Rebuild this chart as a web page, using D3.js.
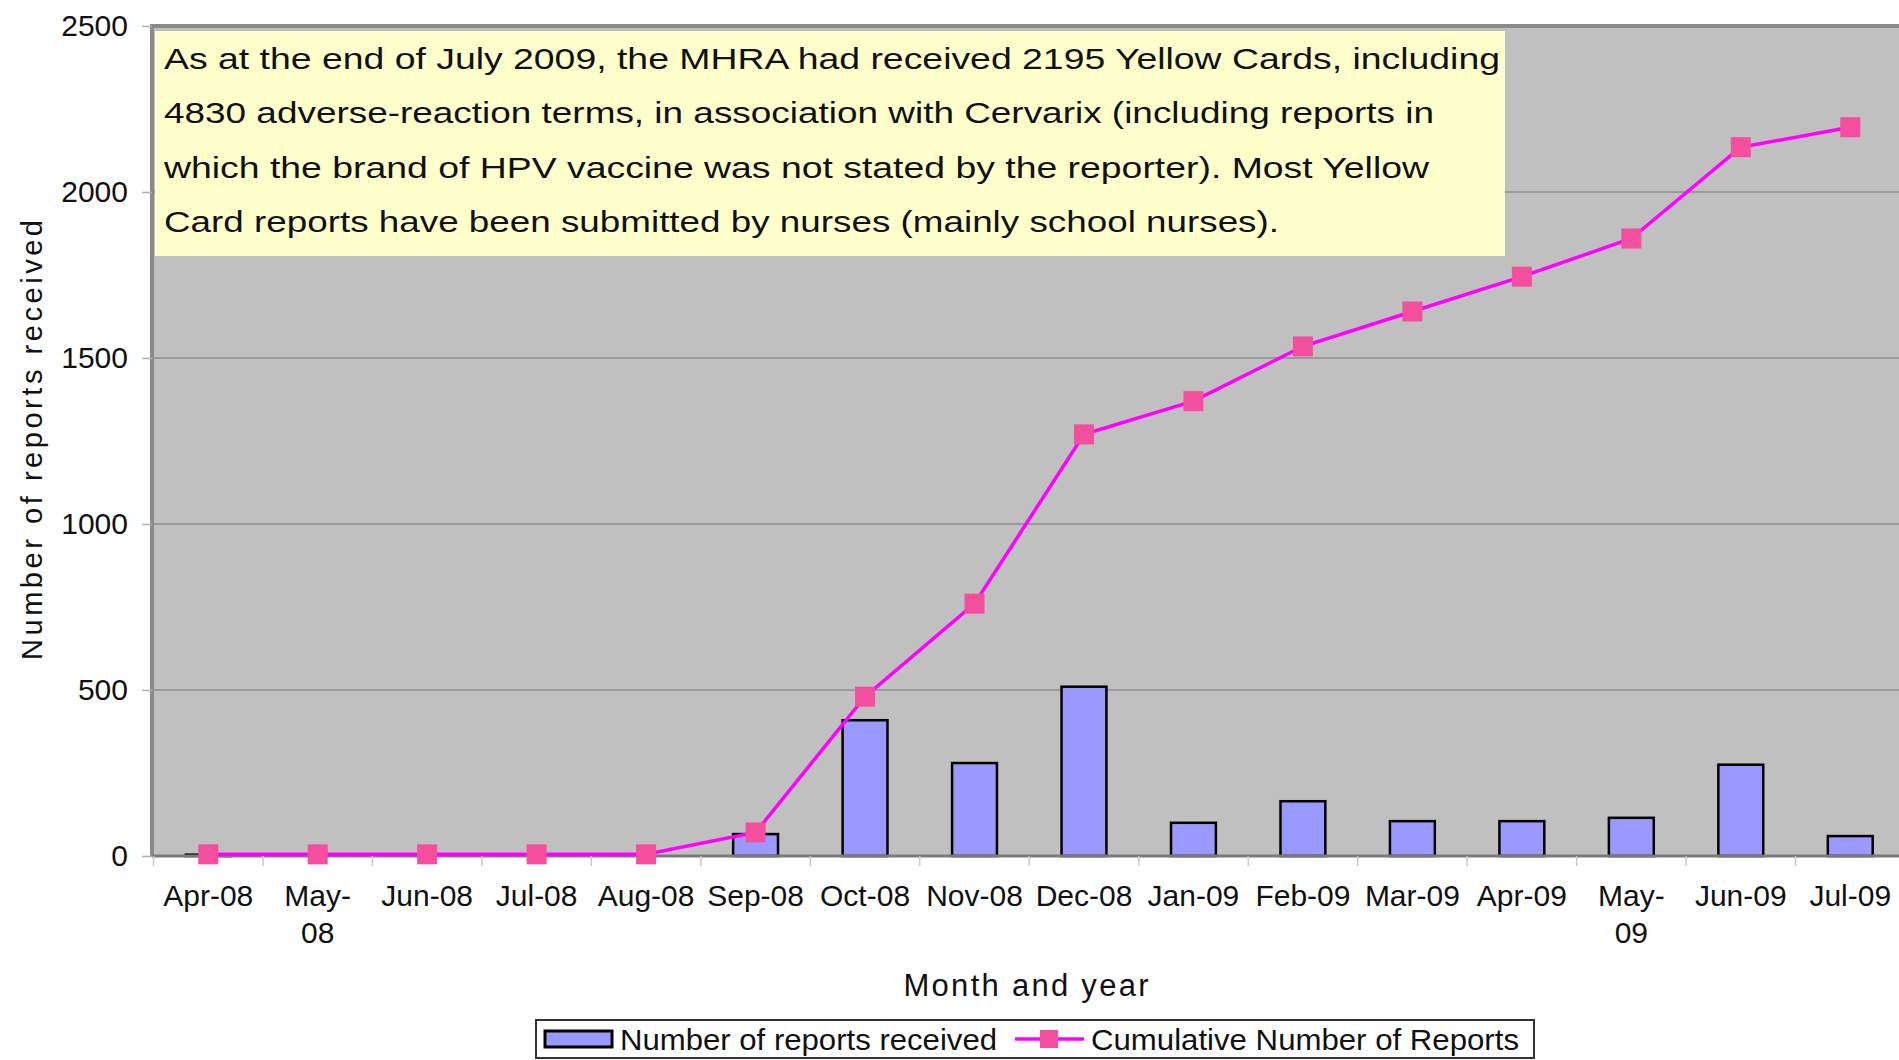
<!DOCTYPE html>
<html lang="en">
<head>
  <meta charset="UTF-8">
  <title>Cervarix Yellow Card reports</title>
  <script src="https://d3js.org/d3.v7.min.js"></script>
  <style>
    html, body { margin:0; background:#fff; overflow:hidden; }
    svg { display:block; }
    text { font-family:"Liberation Sans", Arial, sans-serif; fill:#111; }
  </style>
</head>
<body>
  <svg id="chart" width="1899" height="1060"></svg>
  <script>
    // data
    const months = ["Apr-08","May-08","Jun-08","Jul-08","Aug-08","Sep-08","Oct-08","Nov-08",
                    "Dec-08","Jan-09","Feb-09","Mar-09","Apr-09","May-09","Jun-09","Jul-09"];
    const monthLabels = ["Apr-08","May-\n08","Jun-08","Jul-08","Aug-08","Sep-08","Oct-08","Nov-08",
                         "Dec-08","Jan-09","Feb-09","Mar-09","Apr-09","May-\n09","Jun-09","Jul-09"];
    const reports    = [4, 0, 0, 0, 0, 66, 409, 280, 510, 100, 165, 105, 105, 115, 275, 60];
    const cumulative = [5, 5, 5, 5, 5, 71, 480, 760, 1270, 1370, 1535, 1640, 1745, 1860, 2135, 2195];
    const yTicks = [0, 500, 1000, 1500, 2000, 2500];
    const noteLines = [
      "As at the end of July 2009, the MHRA had received 2195 Yellow Cards, including",
      "4830 adverse-reaction terms, in association with Cervarix (including reports in",
      "which the brand of HPV vaccine was not stated by the reporter). Most Yellow",
      "Card reports have been submitted by nurses (mainly school nurses)."
    ];
    const noteWidths = [1336, 1270, 1265, 1115];

    const svg = d3.select("#chart");
    const plot = {left:152, right:1905, top:26, bottom:856};

    const x = d3.scaleBand().domain(months).range([153.5, 1905]);
    const y = d3.scaleLinear().domain([0, 2500]).range([plot.bottom, plot.top]);
    const barW = x.bandwidth() * 0.41;
    const cx = d => x(d) + x.bandwidth()/2;

    // plot background + grid
    svg.append("rect")
      .attr("x", plot.left).attr("y", plot.top)
      .attr("width", plot.right - plot.left).attr("height", plot.bottom - plot.top)
      .attr("fill", "#c0c0c0");

    svg.append("g").selectAll("line")
      .data(yTicks.slice(1, -1))
      .join("line")
        .attr("x1", plot.left).attr("x2", plot.right)
        .attr("y1", d => y(d)).attr("y2", d => y(d))
        .attr("stroke", "#8e8e8e").attr("stroke-width", 1.5);

    // borders
    svg.append("line")
      .attr("x1", plot.left - 2).attr("x2", plot.right)
      .attr("y1", plot.top).attr("y2", plot.top)
      .attr("stroke", "#8a8a8a").attr("stroke-width", 4);
    svg.append("line")
      .attr("x1", plot.left).attr("x2", plot.left)
      .attr("y1", plot.top).attr("y2", plot.bottom)
      .attr("stroke", "#8a8a8a").attr("stroke-width", 4);

    // y axis
    const yAxis = svg.append("g")
      .attr("transform", `translate(${plot.left},0)`)
      .call(d3.axisLeft(y).tickValues(yTicks).tickFormat(d3.format("d"))
        .tickSize(10).tickPadding(14));
    yAxis.select(".domain").remove();
    yAxis.selectAll(".tick line").attr("stroke", "#b0b0b0").attr("stroke-width", 1.5);
    yAxis.selectAll(".tick text")
      .attr("font-size", 30).attr("fill", "#222")
      .style("font-family", "'Liberation Sans', Arial, sans-serif");

    // annotation box
    svg.append("rect")
      .attr("x", 155).attr("y", 31).attr("width", 1350).attr("height", 225)
      .attr("fill", "#ffffcc");
    svg.append("g").selectAll("text")
      .data(noteLines)
      .join("text")
        .attr("x", 164).attr("y", (d, i) => 69 + i * 54.3)
        .attr("font-size", 30)
        .attr("textLength", (d, i) => noteWidths[i])
        .attr("lengthAdjust", "spacingAndGlyphs")
        .text(d => d);

    // bars
    svg.append("g").selectAll("rect")
      .data(months)
      .join("rect")
        .attr("x", d => cx(d) - barW/2)
        .attr("y", (d, i) => y(reports[i]))
        .attr("width", barW)
        .attr("height", (d, i) => y(0) - y(reports[i]))
        .attr("fill", "#9999ff")
        .attr("stroke", "#000").attr("stroke-width", 2.5);

    // x axis baseline + boundary ticks
    svg.append("line")
      .attr("x1", plot.left).attr("x2", plot.right)
      .attr("y1", plot.bottom).attr("y2", plot.bottom)
      .attr("stroke", "#7a7a7a").attr("stroke-width", 3);
    const bounds = months.map(d => x(d)).concat([x.range()[1]]);
    svg.append("g").selectAll("line")
      .data(bounds)
      .join("line")
        .attr("x1", d => d).attr("x2", d => d)
        .attr("y1", plot.bottom).attr("y2", plot.bottom + 10)
        .attr("stroke", "#c8c8c8").attr("stroke-width", 1.5);

    const xLab = svg.append("g").selectAll("text")
      .data(months)
      .join("text")
        .attr("x", d => cx(d)).attr("y", 906)
        .attr("text-anchor", "middle").attr("font-size", 30);
    xLab.each(function(d, i) {
      const parts = monthLabels[i].split("\n");
      d3.select(this).selectAll("tspan")
        .data(parts)
        .join("tspan")
          .attr("x", cx(d))
          .attr("dy", (p, j) => j ? 37 : 0)
          .text(p => p);
    });

    // cumulative line
    const line = d3.line()
      .x((d, i) => cx(months[i]))
      .y(d => y(d));
    svg.append("path")
      .datum(cumulative)
      .attr("d", line)
      .attr("fill", "none").attr("stroke", "#ff00ff").attr("stroke-width", 3.5);
    svg.append("g").selectAll("rect")
      .data(cumulative)
      .join("rect")
        .attr("x", (d, i) => cx(months[i]) - 10)
        .attr("y", d => y(d) - 10)
        .attr("width", 20).attr("height", 20)
        .attr("fill", "#f44f9e");

    // axis titles
    svg.append("text")
      .attr("x", 1026).attr("y", 996)
      .attr("text-anchor", "middle").attr("font-size", 31)
      .attr("textLength", 245).attr("lengthAdjust", "spacing")
      .text("Month and year");
    svg.append("text")
      .attr("transform", "translate(42,440) rotate(-90)")
      .attr("text-anchor", "middle").attr("font-size", 29)
      .attr("textLength", 440).attr("lengthAdjust", "spacing")
      .text("Number of reports received");

    // legend
    const lg = svg.append("g");
    lg.append("rect")
      .attr("x", 536).attr("y", 1020).attr("width", 998).attr("height", 38)
      .attr("fill", "#fff").attr("stroke", "#333").attr("stroke-width", 2);
    lg.append("rect")
      .attr("x", 545).attr("y", 1031).attr("width", 67).attr("height", 16)
      .attr("fill", "#9999ff").attr("stroke", "#000").attr("stroke-width", 3);
    lg.append("text")
      .attr("x", 620).attr("y", 1050).attr("font-size", 30)
      .attr("textLength", 377).attr("lengthAdjust", "spacingAndGlyphs")
      .text("Number of reports received");
    lg.append("line")
      .attr("x1", 1015).attr("x2", 1084).attr("y1", 1039).attr("y2", 1039)
      .attr("stroke", "#ff00ff").attr("stroke-width", 3.5);
    lg.append("rect")
      .attr("x", 1040).attr("y", 1030).attr("width", 18).attr("height", 18)
      .attr("fill", "#f44f9e");
    lg.append("text")
      .attr("x", 1091).attr("y", 1050).attr("font-size", 30)
      .attr("textLength", 428).attr("lengthAdjust", "spacingAndGlyphs")
      .text("Cumulative Number of Reports");
  </script>
</body>
</html>
